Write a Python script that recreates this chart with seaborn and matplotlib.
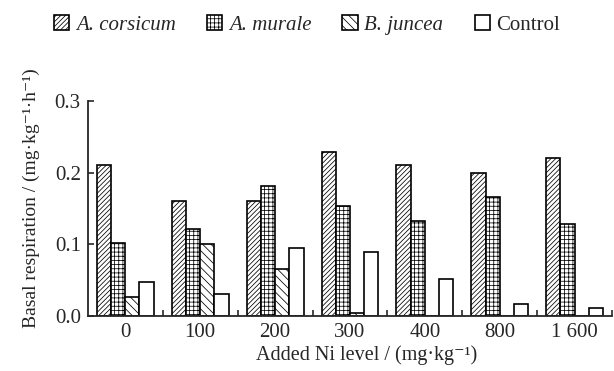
import numpy as np
import pandas as pd
import matplotlib
matplotlib.use("Agg")
import matplotlib.pyplot as plt
import seaborn as sns
from matplotlib.patches import Patch

ni_levels = ["0", "100", "200", "300", "400", "800", "1 600"]
species = ["A. corsicum", "A. murale", "B. juncea", "Control"]
corsicum = [0.210, 0.160, 0.160, 0.229, 0.210, 0.200, 0.220]
murale = [0.102, 0.122, 0.181, 0.153, 0.133, 0.166, 0.129]
juncea = [0.027, 0.100, 0.065, 0.005, 0.0, 0.0, 0.0]
control = [0.048, 0.031, 0.095, 0.090, 0.052, 0.017, 0.011]
hatches = ["///////", "++++", "\\\\\\\\", ""]

sns.set_theme(style="ticks")
plt.rcParams['font.family'] = ['Liberation Serif', 'DejaVu Serif']
plt.rcParams['hatch.linewidth'] = 0.55

rows = []
for name, vals in zip(species, [corsicum, murale, juncea, control]):
    for lvl, v in zip(ni_levels, vals):
        rows.append({"level": lvl, "species": name, "value": v})
df = pd.DataFrame(rows)

fig = plt.figure(figsize=(6.14, 3.71), dpi=100)
ax = fig.add_axes([0.143, 0.148, 0.854, 0.58])

sns.barplot(data=df, x="level", y="value", hue="species", order=ni_levels,
            hue_order=species, palette=["white"] * 4, width=0.76,
            edgecolor="black", linewidth=1.2, legend=False, ax=ax)

for cont, h in zip(ax.containers, hatches):
    for bar in cont:
        bar.set_hatch(h)
        bar.set_edgecolor("black")

ax.set_xlim(-0.5, 6.5)
ax.set_ylim(0, 0.3)
ax.set_yticks([0, 0.1, 0.2, 0.3])
ax.set_yticklabels(["0.0", "0.1", "0.2", "0.3"])
ax.set_xticks(np.arange(7))
ax.set_xticklabels(ni_levels)
ax.set_xticks(np.arange(7) + 0.5, minor=True)
ax.tick_params(axis="x", which="major", length=0, labelsize=15, pad=5)
ax.tick_params(axis="x", which="minor", direction="in", length=4, width=1.2)
ax.tick_params(axis="y", direction="in", length=4, width=1.2, labelsize=15, pad=5)
sns.despine(ax=ax)
for s in ["left", "bottom"]:
    ax.spines[s].set_linewidth(1.3)

ax.set_xlabel("Added Ni level / (mg·kg⁻¹)", fontsize=14.5)
ax.set_ylabel("Basal respiration / (mg·kg⁻¹·h⁻¹)", fontsize=14)
ax.xaxis.set_label_coords(0.532, -0.135)
ax.yaxis.set_label_coords(-0.092, 0.55)

handles = [Patch(facecolor="white", edgecolor="black", hatch=h, linewidth=1.2)
           for h in hatches]
leg = fig.legend(handles, species, loc="center", bbox_to_anchor=(0.5, 0.933),
                 ncol=4, frameon=False, fontsize=15, handlelength=0.75,
                 handleheight=0.75, handletextpad=0.3, columnspacing=1.5)
for t in leg.get_texts()[:3]:
    t.set_fontstyle("italic")

fig.savefig("out.png", dpi=100, facecolor="white")
